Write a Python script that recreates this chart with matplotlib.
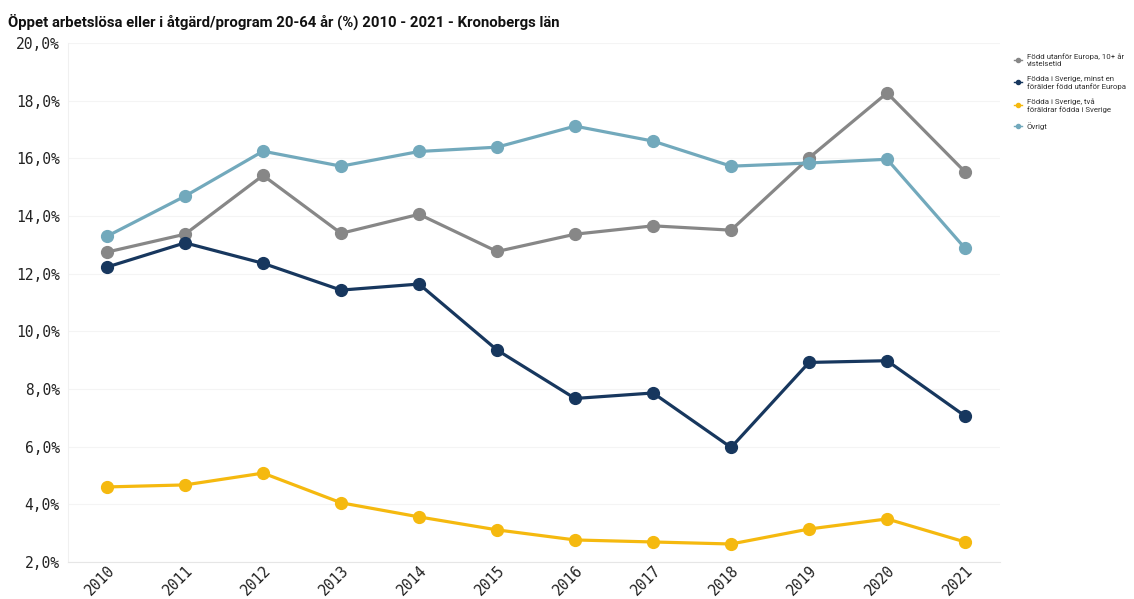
import matplotlib

matplotlib.use("Agg")
import matplotlib.pyplot as plt
from matplotlib.ticker import FuncFormatter

years = [2010, 2011, 2012, 2013, 2014, 2015, 2016, 2017, 2018, 2019, 2020, 2021]

# andel (%) per grupp
fodd_utanfor_europa = [12.75, 13.37, 15.41, 13.40, 14.06, 12.77, 13.37, 13.66, 13.51, 16.02, 18.27, 15.53]
svensk_en_foralder = [12.23, 13.07, 12.36, 11.43, 11.64, 9.35, 7.67, 7.86, 5.97, 8.92, 8.98, 7.06]
svensk_tva_foraldrar = [4.60, 4.67, 5.08, 4.05, 3.56, 3.11, 2.76, 2.69, 2.62, 3.14, 3.49, 2.69]
ovrigt = [13.30, 14.69, 16.25, 15.73, 16.24, 16.39, 17.12, 16.60, 15.73, 15.84, 15.97, 12.88]

labels = [
    "Född utanför Europa, 10+ år\nvistelsetid",
    "Födda i Sverige, minst en\nförälder född utanför Europa",
    "Födda i Sverige, två\nföräldrar födda i Sverige",
    "Övrigt",
]
colors = ["#878787", "#17375e", "#f5b90f", "#72a9bc"]
series = [fodd_utanfor_europa, svensk_en_foralder, svensk_tva_foraldrar, ovrigt]

MONO = "DejaVu Sans Mono"

fig = plt.figure(figsize=(11.34, 5.99), dpi=100)
ax = fig.add_axes([0.06, 0.062, 0.822, 0.866])

handles = []
for vals, col, lab in zip(series, colors, labels):
    h, = ax.plot(years, vals, color=col, lw=2.3, marker="o", markersize=8.5,
                 label=lab, zorder=3)
    handles.append(h)

ax.set_ylim(2, 20)
ax.set_xlim(2009.5, 2021.45)
ax.set_yticks(range(2, 21, 2))
ax.yaxis.set_major_formatter(FuncFormatter(lambda v, p: f"{v:.1f}%".replace(".", ",")))
ax.set_xticks(years)
ax.set_xticklabels([str(y) for y in years], rotation=45, ha="right",
                   rotation_mode="anchor", family=MONO, fontsize=10.5, color="#222222")
for t in ax.get_yticklabels():
    t.set_family(MONO)
    t.set_fontsize(10.5)
    t.set_color("#222222")
ax.tick_params(axis="x", length=0, pad=1)
ax.tick_params(axis="y", length=0, pad=6)

ax.grid(True, axis="y", color="#f4f4f4", lw=0.8, zorder=0)
for side in ("top", "right"):
    ax.spines[side].set_visible(False)
ax.spines["left"].set_color("#f0f0f0")
ax.spines["bottom"].set_color("#e6e6e6")

fig.text(0.007, 0.963, "Öppet arbetslösa eller i åtgärd/program 20-64 år (%) 2010 - 2021 - Kronobergs län",
         fontsize=10.7, fontweight="bold", family="Roboto", color="#111111", va="center")

leg = fig.legend(handles=handles, loc="upper left", bbox_to_anchor=(0.888, 0.923),
                 frameon=False, handlelength=1.0, markerscale=0.35,
                 labelspacing=1.1, handletextpad=0.6,
                 prop={"family": "Roboto", "size": 5.7})
for line in leg.get_lines():
    line.set_linewidth(1.0)
for t in leg.get_texts():
    t.set_color("#333333")

fig.savefig("out.png", dpi=100)
